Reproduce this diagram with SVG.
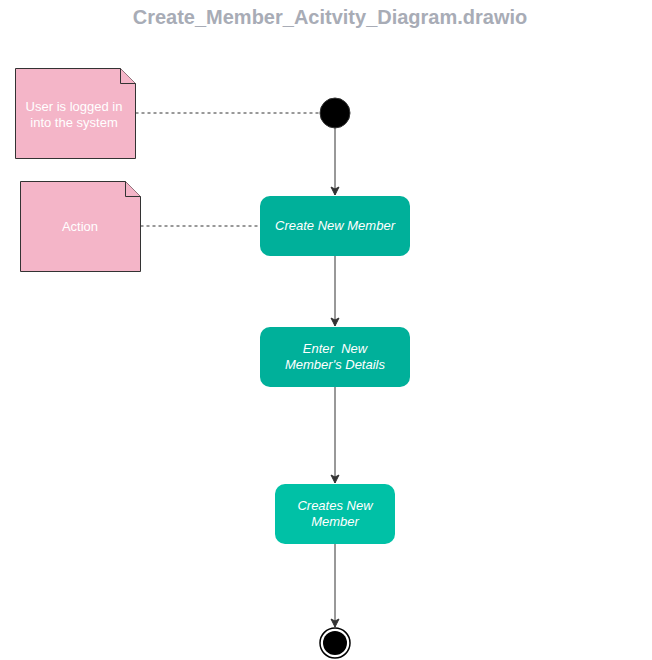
<svg xmlns="http://www.w3.org/2000/svg" width="652" height="660" viewBox="0 0 652 660">
<defs>
<style>
.note{fill:#F4B5C8;stroke:#333;stroke-width:1}
.nt{font-family:"Liberation Sans",Arial,sans-serif;font-size:13px;fill:#fff;text-anchor:middle}
.act{stroke:none}
.at{font-family:"Liberation Sans",Arial,sans-serif;font-size:13px;font-style:italic;fill:#fff;text-anchor:middle;white-space:pre}
.edge{stroke:#333;stroke-width:1;fill:none}
.dash{stroke:#333;stroke-width:1;fill:none;stroke-dasharray:3 3}
</style>
<marker id="arr" markerWidth="10" markerHeight="10" refX="9" refY="5" orient="auto" markerUnits="userSpaceOnUse">
<path d="M1,1 L9,5 L1,9 L3,5 Z" fill="#333" stroke="#333"/>
</marker>
</defs>
<rect width="652" height="660" fill="#fff"/>
<text x="330" y="24" font-family="'Liberation Sans',Arial,sans-serif" font-size="20" font-weight="bold" fill="#A8ACB6" text-anchor="middle">Create_Member_Acitvity_Diagram.drawio</text>
<g id="connectors">
<path class="dash" d="M135.5,113 H320"/>
<path class="dash" d="M140.5,226 H260"/>
<path class="edge" d="M335,128 V195" marker-end="url(#arr)"/>
<path class="edge" d="M335,256 V326" marker-end="url(#arr)"/>
<path class="edge" d="M335,387 V483" marker-end="url(#arr)"/>
<path class="edge" d="M335,544 V627" marker-end="url(#arr)"/>
</g>
<g id="note1">
<path class="note" d="M15.5,68.5 H120.5 L135.5,83.5 V158.5 H15.5 Z"/>
<path class="note" d="M120.5,68.5 V83.5 H135.5"/>
<text class="nt" x="74" y="111">User is logged in</text>
<text class="nt" x="74" y="127">into the system</text>
</g>
<g id="note2">
<path class="note" d="M20.5,181.5 H125.5 L140.5,196.5 V271.5 H20.5 Z"/>
<path class="note" d="M125.5,181.5 V196.5 H140.5"/>
<text class="nt" x="80" y="231">Action</text>
</g>
<g id="start">
<circle cx="335" cy="113" r="15" fill="#000" stroke="#333"/>
</g>
<g id="create">
<rect class="act" x="260" y="196" width="150" height="60" rx="10" fill="#00B09A"/>
<text class="at" x="335" y="230">Create New Member</text>
</g>
<g id="enter">
<rect class="act" x="260" y="327" width="150" height="60" rx="10" fill="#00B09A"/>
<text class="at" x="335" y="353" xml:space="preserve">Enter  New</text>
<text class="at" x="335" y="369">Member's Details</text>
</g>
<g id="creates">
<rect class="act" x="275" y="484" width="120" height="60" rx="10" fill="#00C1A6"/>
<text class="at" x="335" y="510">Creates New</text>
<text class="at" x="335" y="526">Member</text>
</g>
<g id="end">
<circle cx="335" cy="643" r="15" fill="#fff" stroke="#000" stroke-width="1.5"/>
<circle cx="335" cy="643" r="12" fill="#000"/>
</g>
</svg>
